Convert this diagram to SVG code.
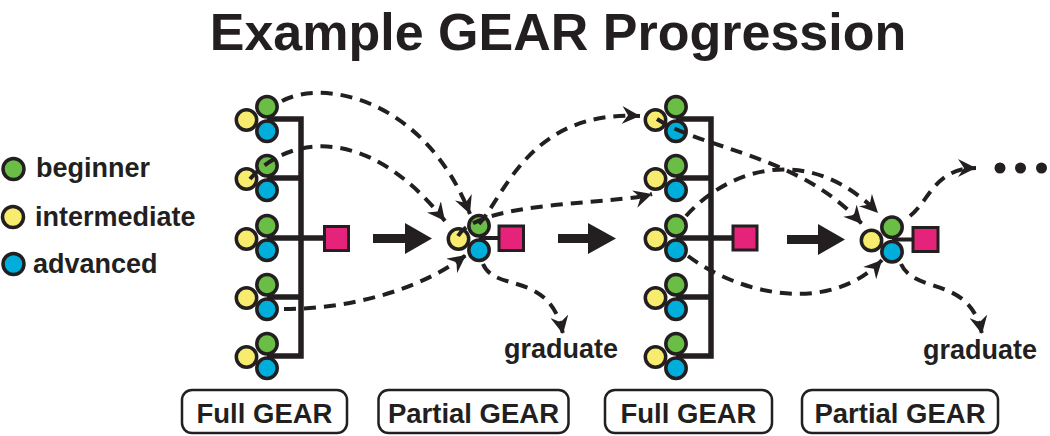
<svg xmlns="http://www.w3.org/2000/svg" width="1050" height="436" viewBox="0 0 1050 436">
<style>
text{font-family:"Liberation Sans",Arial,sans-serif;font-weight:bold;fill:#231f20}
.t{font-size:52px}
.l{font-size:27px}
.b{font-size:27.5px}
.g{fill:#6abd45;stroke:#231f20;stroke-width:3.5}
.y{fill:#f7ec6e;stroke:#231f20;stroke-width:3.5}
.c{fill:#00aedb;stroke:#231f20;stroke-width:3.5}
.sq{fill:#e6237a;stroke:#231f20;stroke-width:3}
.bar{fill:none;stroke:#231f20;stroke-width:5.5}
.pl{fill:none;stroke:#231f20;stroke-width:4}
.box{fill:#fff;stroke:#231f20;stroke-width:2.5}
.d{fill:none;stroke:#231f20;stroke-width:4;stroke-dasharray:12 8;marker-end:url(#ah)}
.big{fill:#231f20}
</style>
<defs>
<marker id="ah" markerUnits="userSpaceOnUse" markerWidth="19" markerHeight="18" refX="18" refY="9" orient="auto">
<path d="M0,0 L18,9 L0,18 L6,9 Z" fill="#231f20"/>
</marker>
<g id="tri">
<circle class="y" cx="-20.5" cy="1" r="10.2"/>
<circle class="g" cx="0" cy="-12.3" r="10.2"/>
<circle class="c" cx="0" cy="12.3" r="10.2"/>
</g>
</defs>
<rect width="1050" height="436" fill="#fff"/>
<text class="t" x="558" y="50" text-anchor="middle">Example GEAR Progression</text>

<g id="legend">
<circle class="g" cx="13.5" cy="169" r="10.5"/>
<text class="l" x="36" y="177">beginner</text>
<circle class="y" cx="13" cy="217" r="10.5"/>
<text class="l" x="35" y="226">intermediate</text>
<circle class="c" cx="13.5" cy="264" r="10.5"/>
<text class="l" x="33" y="273">advanced</text>
</g>

<g id="full1">
<path class="bar" d="M267,119 H301 V356 H267 M267,178 H301 M267,238 H324 M267,297 H301"/>
<use href="#tri" x="267" y="119"/>
<use href="#tri" x="267" y="178"/>
<use href="#tri" x="267" y="238"/>
<use href="#tri" x="267" y="297"/>
<use href="#tri" x="267" y="356"/>
<rect class="sq" x="324.5" y="226.5" width="24" height="24"/>
</g>

<g id="partial1">
<path class="pl" d="M479,238 H499"/>
<use href="#tri" x="479" y="238"/>
<rect class="sq" x="499" y="226" width="24.5" height="24.5"/>
</g>

<g id="full2">
<path class="bar" d="M676,119 H711 V356 H676 M676,178 H711 M676,238 H733 M676,297 H711"/>
<use href="#tri" x="676" y="119"/>
<use href="#tri" x="676" y="178"/>
<use href="#tri" x="676" y="238"/>
<use href="#tri" x="676" y="297"/>
<use href="#tri" x="676" y="356"/>
<rect class="sq" x="733" y="226" width="24" height="24"/>
</g>

<g id="partial2">
<path class="pl" d="M892,239.5 H913"/>
<use href="#tri" x="892" y="239.5"/>
<rect class="sq" x="913" y="227.5" width="25" height="24"/>
</g>

<g id="arrows">
<path class="big" d="M373,234 H405 V223 L432,238.5 L405,254 V243 H373 Z"/>
<path class="big" d="M558,234 H588 V223 L616,238.5 L588,254 V243 H558 Z"/>
<path class="big" d="M787,235 H818 V224 L845,239.5 L818,255 V244 H787 Z"/>
</g>

<g id="connectors">
<path class="d" d="M282,101 C325,78 425,100 470,214"/>
<path class="d" d="M250,179 C285,138 365,120 445,221"/>
<path class="d" d="M284,309 C350,309 420,290 466,255"/>
<path class="d" d="M479,224 C505,195 530,110 640,116"/>
<path class="d" d="M458,236 C480,200 615,205 652,194"/>
<path class="d" d="M483,264 C495,293 550,270 563,334"/>
<path class="d" d="M657,119 C705,150 800,155 862,224"/>
<path class="d" d="M686,216 C732,165 812,145 878,213"/>
<path class="d" d="M688,256 C740,295 830,315 882,260"/>
<path class="d" d="M910,216 C930,200 935,168 976,168"/>
<path class="d" d="M901,264 C915,295 970,275 982,334"/>
</g>

<g id="ellipsis">
<circle cx="1000" cy="168" r="5.5" fill="#231f20"/>
<circle cx="1020.5" cy="168" r="5.5" fill="#231f20"/>
<circle cx="1041.5" cy="168" r="5.5" fill="#231f20"/>
</g>

<g id="grad">
<text class="l" x="561" y="358" text-anchor="middle">graduate</text>
<text class="l" x="980" y="359" text-anchor="middle">graduate</text>
</g>

<g id="labels">
<rect class="box" x="182" y="390" width="165" height="43" rx="10"/>
<text class="b" x="264.5" y="423" text-anchor="middle">Full GEAR</text>
<rect class="box" x="378.5" y="390" width="190" height="43" rx="10"/>
<text class="b" x="473.5" y="423" text-anchor="middle">Partial GEAR</text>
<rect class="box" x="605" y="390" width="167" height="43" rx="10"/>
<text class="b" x="688.5" y="423" text-anchor="middle">Full GEAR</text>
<rect class="box" x="802" y="390" width="196" height="43" rx="10"/>
<text class="b" x="900" y="423" text-anchor="middle">Partial GEAR</text>
</g>
</svg>
